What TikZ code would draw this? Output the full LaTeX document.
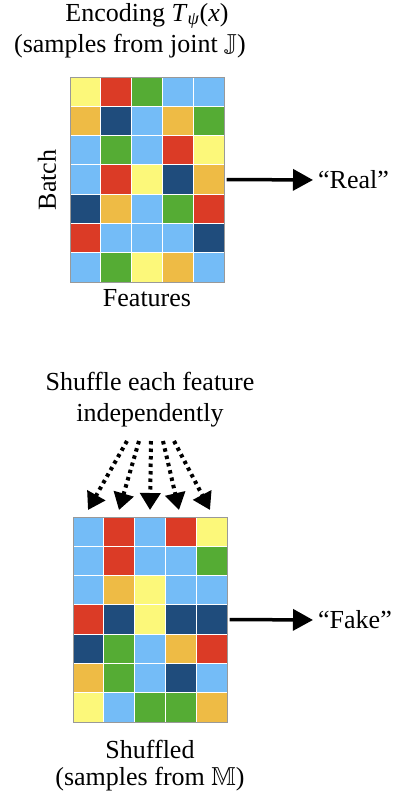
\documentclass[tikz,border=0pt]{standalone}
\usepackage{amssymb}
\usepackage{fontspec}
\setmainfont{Liberation Serif}
\usetikzlibrary{arrows.meta}
\definecolor{cY}{RGB}{252,248,122}
\definecolor{cR}{RGB}{219,59,38}
\definecolor{cG}{RGB}{85,172,52}
\definecolor{cL}{RGB}{116,188,247}
\definecolor{cO}{RGB}{238,187,69}
\definecolor{cD}{RGB}{31,76,124}
\tikzset{
  lbl/.style={font=\fontsize{26}{31}\selectfont, inner sep=0pt, align=center},
  cell/.style={draw=white, line width=1pt},
  frame/.style={draw=gray!80, line width=1pt},
  bigarrow/.style={line width=3.5pt, -{Triangle[length=20pt,width=21pt]}, shorten >=5pt},
  dotarrow/.style={line width=4pt, dash pattern=on 3.5pt off 4pt, -{Triangle[length=17pt,width=20pt]}}
}
\newcommand{\gridrow}[4]{% x0, y0, row index, list
  \foreach \c [count=\i from 0] in {#4} {
    \fill[c\c] ({#1+\i*30.9},{#2+#3*29.3}) rectangle ++(30.9,29.3);
    \draw[cell] ({#1+\i*30.9},{#2+#3*29.3}) rectangle ++(30.9,29.3);
  }}
\begin{document}
\begin{tikzpicture}[x=1pt,y=-1pt]
\useasboundingbox (0,0) rectangle (398,798);
% top grid
\gridrow{70}{77}{0}{Y,R,G,L,L}
\gridrow{70}{77}{1}{O,D,L,O,G}
\gridrow{70}{77}{2}{L,G,L,R,Y}
\gridrow{70}{77}{3}{L,R,Y,D,O}
\gridrow{70}{77}{4}{D,O,L,G,R}
\gridrow{70}{77}{5}{R,L,L,L,D}
\gridrow{70}{77}{6}{L,G,Y,O,L}
\draw[frame] (70,77) rectangle (224.5,282);
\node[draw=none, minimum width=154.5pt, minimum height=205pt, inner sep=0pt] (top) at (147.25,179.5) {};
% bottom grid
\gridrow{73}{517}{0}{L,R,L,R,Y}
\gridrow{73}{517}{1}{L,R,L,L,G}
\gridrow{73}{517}{2}{L,O,Y,L,L}
\gridrow{73}{517}{3}{R,D,Y,D,D}
\gridrow{73}{517}{4}{D,G,L,O,R}
\gridrow{73}{517}{5}{O,G,L,D,L}
\gridrow{73}{517}{6}{Y,L,G,G,O}
\draw[frame] (73,517) rectangle (227.5,722);
\node[draw=none, minimum width=154.5pt, minimum height=205pt, inner sep=0pt] (bot) at (150.25,619.5) {};
% labels
\node[lbl] (t1) at (147,16) {Encoding \textit{T}\textsubscript{\textit{ψ}}(\textit{x})};
\node[lbl] (t2) at (130,46) {(samples from joint $\mathbb{J}$)};
\node[lbl, rotate=90] (batch) at (47,180) {Batch};
\node[lbl] (feat) at (147,298) {Features};
\node[lbl, anchor=west] (real) at (318,180) {“Real”};
\draw[bigarrow] (top.east) ++(2,0) -- (real.west);
\node[lbl] (sh) at (150,400) {Shuffle each feature\\independently};
\node[lbl, anchor=west] (fake) at (318,620) {“Fake”};
\draw[bigarrow] (bot.east) ++(2,0) -- (fake.west);
\node[lbl] (s1) at (150,749) {Shuffled};
\node[lbl] (s2) at (150,779) {(samples from $\mathbb{M}$)};
% dotted arrows
\coordinate (a1) at (127,441); \coordinate (b1) at (88,510);
\coordinate (a2) at (139,441); \coordinate (b2) at (119,510);
\coordinate (a3) at (151,441); \coordinate (b3) at (150,510);
\coordinate (a4) at (163,441); \coordinate (b4) at (179,510);
\coordinate (a5) at (174,441); \coordinate (b5) at (210,510);
\foreach \k in {1,...,5} \draw[dotarrow] (a\k) -- (b\k);
\end{tikzpicture}
\end{document}
